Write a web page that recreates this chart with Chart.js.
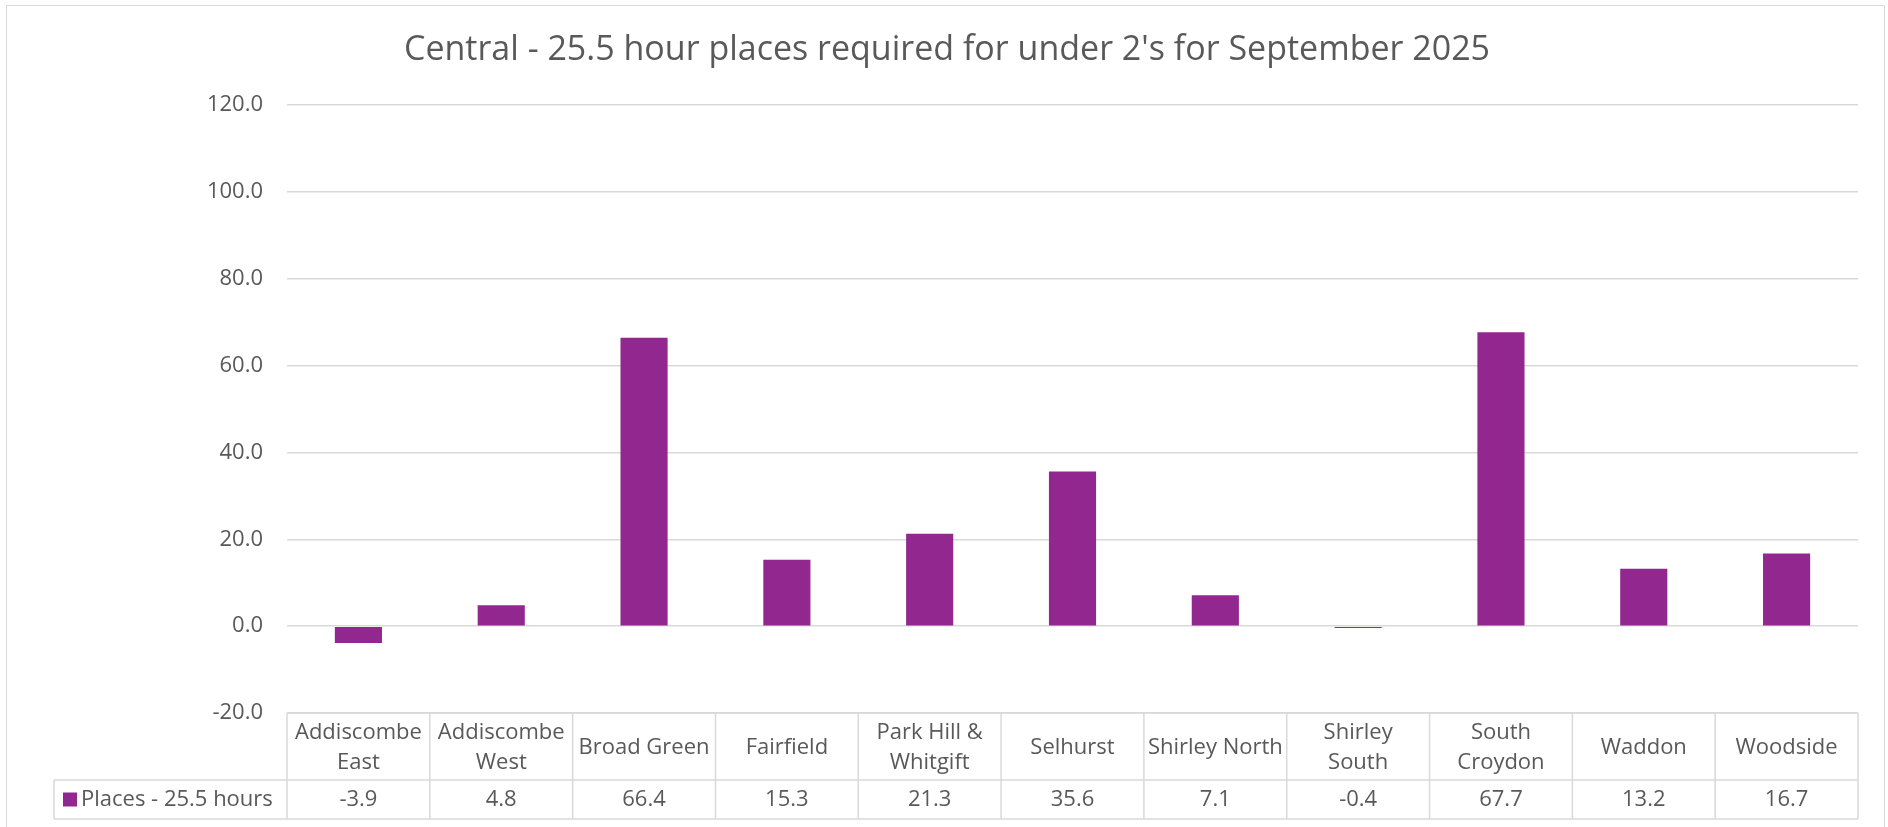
<!DOCTYPE html>
<html>
<head>
<meta charset="utf-8">
<script src="https://cdn.jsdelivr.net/npm/chart.js@4.4.1/dist/chart.umd.min.js"></script>
<style>
html,body{margin:0;padding:0;background:#fff;overflow:hidden;}
#wrap{position:absolute;left:0;top:0;width:1888px;height:827px;}
</style>
</head>
<body>
<div id="wrap"><canvas id="c" width="1888" height="827"></canvas></div>
<script>
// ---- data ----
const categories = [["Addiscombe","East"],["Addiscombe","West"],["Broad Green"],["Fairfield"],["Park Hill &","Whitgift"],["Selhurst"],["Shirley North"],["Shirley","South"],["South","Croydon"],["Waddon"],["Woodside"]];
const places = [-3.9, 4.8, 66.4, 15.3, 21.3, 35.6, 7.1, -0.4, 67.7, 13.2, 16.7];
const seriesName = "Places - 25.5 hours";
const chartTitle = "Central - 25.5 hour places required for under 2's for September 2025";
const yMin = -20, yMax = 120, yStep = 20;

// ---- styles ----
const FONT = '"Open Sans", "Noto Sans", sans-serif';
const TEXT = '#595959';
const GRID = '#d9d9d9';
const BAR = '#92278F';

const tablePlugin = {
  id: 'excelTable',
  afterDraw(chart) {
    const ctx = chart.ctx;
    const xs = chart.scales.x;
    const ca = chart.chartArea;
    const n = categories.length;
    const colW = (ca.right - ca.left) / n;
    const headTop = ca.bottom;
    const headBot = headTop + 67;
    const rowBot = headBot + 39;
    const legendLeft = 54;

    ctx.save();
    // outer chart border
    ctx.strokeStyle = GRID;
    ctx.lineWidth = 1;
    ctx.strokeRect(6.5, 5.5, 1878, 900);

    // title
    ctx.fillStyle = TEXT;
    ctx.font = '34px ' + FONT;
    ctx.textAlign = 'center';
    ctx.textBaseline = 'alphabetic';
    ctx.fillText(chartTitle, 947, 60);

    // table lines
    ctx.strokeStyle = GRID;
    ctx.lineWidth = 1.5;
    ctx.beginPath();
    ctx.moveTo(ca.left, headTop); ctx.lineTo(ca.right, headTop);
    ctx.moveTo(legendLeft, headBot); ctx.lineTo(ca.right, headBot);
    ctx.moveTo(legendLeft, rowBot); ctx.lineTo(ca.right, rowBot);
    ctx.moveTo(legendLeft, headBot); ctx.lineTo(legendLeft, rowBot);
    for (let i = 0; i < n; i++) {
      const cx = xs.getPixelForValue(i);
      const l = cx - colW / 2;
      ctx.moveTo(l, headTop); ctx.lineTo(l, rowBot);
    }
    ctx.moveTo(ca.right, headTop); ctx.lineTo(ca.right, rowBot);
    ctx.stroke();

    // header labels & values
    ctx.fillStyle = TEXT;
    ctx.font = '22px ' + FONT;
    ctx.textAlign = 'center';
    ctx.textBaseline = 'alphabetic';
    const mid = (headTop + headBot) / 2 - 1;
    const lh = 30;
    for (let i = 0; i < n; i++) {
      const cx = xs.getPixelForValue(i);
      const lines = categories[i];
      const start = mid - (lines.length - 1) * lh / 2;
      lines.forEach((t, k) => ctx.fillText(t, cx, start + k * lh + 8));
      ctx.fillText(places[i].toFixed(1), cx, rowBot - 13);
    }
    // legend key
    ctx.fillStyle = BAR;
    ctx.fillRect(63, (headBot + rowBot) / 2 - 7, 14, 14);
    ctx.fillStyle = TEXT;
    ctx.textAlign = 'left';
    ctx.fillText(seriesName, 81, rowBot - 13);
    ctx.restore();
  }
};

new Chart(document.getElementById('c'), {
  type: 'bar',
  data: {
    labels: categories.map(c => c.join(' ')),
    datasets: [{
      label: seriesName,
      data: places,
      backgroundColor: BAR,
      borderWidth: 0,
      categoryPercentage: 1,
      barPercentage: 0.33
    }]
  },
  options: {
    responsive: false,
    animation: false,
    devicePixelRatio: 1,
    layout: { padding: { top: 105, right: 30, bottom: 0, left: 0 } },
    plugins: { legend: { display: false }, title: { display: false }, tooltip: { enabled: false } },
    scales: {
      x: {
        ticks: { display: false },
        grid: { display: false },
        border: { display: false },
        afterFit: s => { s.height = 114; }
      },
      y: {
        min: yMin, max: yMax,
        ticks: {
          stepSize: yStep,
          padding: 24,
          color: TEXT,
          font: { family: FONT, size: 22 },
          callback: v => Number(v).toFixed(1)
        },
        grid: { color: GRID, lineWidth: 1.5, drawTicks: false },
        border: { display: false },
        afterFit: s => { s.width = 287; }
      }
    }
  },
  plugins: [tablePlugin]
});
</script>
</body>
</html>
